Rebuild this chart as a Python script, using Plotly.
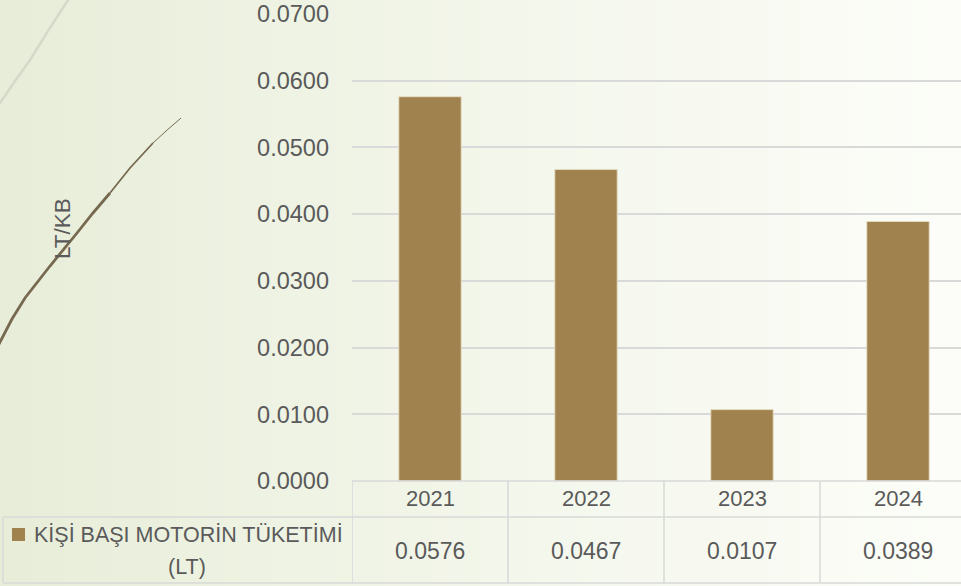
import plotly.graph_objects as go

# ---- data ----
years = ["2021", "2022", "2023", "2024"]
values = [0.0576, 0.0467, 0.0107, 0.0389]
series_name = "KİŞİ BAŞI MOTORİN TÜKETİMİ"
series_unit = "(LT)"
y_title = "LT/KB"
y_ticks = [0.0, 0.01, 0.02, 0.03, 0.04, 0.05, 0.06, 0.07]

W, H = 961, 586
FONT = "Liberation Sans, Arial, sans-serif"
TXT = "#5a5a5a"
GRID = "#d9d9d9"
BAR = "#A0824F"


def px(x):
    return x / W


def py(y):
    return 1 - y / H


PLOT_L, PLOT_T, PLOT_B = 352, 14, 481
CAT_W = 156

shapes = []
# background gradient (horizontal strips)
c0 = (231, 237, 216)
c1 = (252, 253, 248)
n = 60
for i in range(n):
    t = i / (n - 1)
    t2 = t ** 0.85
    c = tuple(round(a + (b - a) * t2) for a, b in zip(c0, c1))
    shapes.append(dict(type="rect", xref="paper", yref="paper",
                       x0=i / n, x1=(i + 1) / n + 0.002, y0=0, y1=1,
                       fillcolor=f"rgb{c}", line=dict(width=0), layer="below"))

# decorative curves
def path_from(pts):
    s = f"M {px(pts[0][0])},{py(pts[0][1])}"
    for (x, y) in pts[1:]:
        s += f" L {px(x)},{py(y)}"
    return s

gray_curve = [(-5, 112), (0, 103), (15, 81), (30, 60), (48, 31), (68, 0), (74, -10)]
shapes.append(dict(type="path", xref="paper", yref="paper", path=path_from(gray_curve),
                   line=dict(color="#d6d9ca", width=2.5), layer="below"))
brown_parts = [
    ([(181, 118), (166, 131), (153, 143)], 1),
    ([(153, 143), (130, 168), (110, 193)], 1.8),
    ([(110, 193), (93, 213), (77, 233), (50, 266), (25, 298), (12, 319), (0, 342), (-8, 358)], 2.8),
]
for pts, w in brown_parts:
    shapes.append(dict(type="path", xref="paper", yref="paper", path=path_from(pts),
                       line=dict(color="#76694f", width=w), layer="below"))

# table lines
def hline(y, x0, x1):
    shapes.append(dict(type="line", xref="paper", yref="paper", x0=px(x0), x1=px(x1),
                       y0=py(y), y1=py(y), line=dict(color=GRID, width=1.5), layer="above"))


def vline_paper(x, y0, y1):
    shapes.append(dict(type="line", xref="paper", yref="paper", x0=px(x), x1=px(x),
                       y0=py(y0), y1=py(y1), line=dict(color=GRID, width=1.5), layer="above"))


hline(481, PLOT_L, W + 5)
hline(517, 3, W + 5)
hline(583, 3, W + 5)
vline_paper(3, 517, 583)
for i in range(len(years)):
    shapes.append(dict(type="line", xref="x", yref="paper", x0=i - 0.5, x1=i - 0.5,
                       y0=py(481), y1=py(583), line=dict(color=GRID, width=1.5), layer="above"))

# legend square
shapes.append(dict(type="rect", xref="paper", yref="paper", x0=px(12), x1=px(25),
                   y0=py(541), y1=py(528), fillcolor=BAR, line=dict(width=0)))

annotations = []
for i, (yr, v) in enumerate(zip(years, values)):
    annotations.append(dict(x=i, y=py(498), xref="x", yref="paper", text=yr,
                            showarrow=False, font=dict(family=FONT, size=22, color=TXT),
                            xanchor="center", yanchor="middle"))
    annotations.append(dict(x=i, y=py(551), xref="x", yref="paper", text=f"{v:.4f}",
                            showarrow=False, font=dict(family=FONT, size=23, color=TXT),
                            xanchor="center", yanchor="middle"))
annotations.append(dict(x=px(188), y=py(535), xref="paper", yref="paper", text=series_name,
                        showarrow=False, font=dict(family=FONT, size=21.5, color=TXT),
                        xanchor="center", yanchor="middle"))
annotations.append(dict(x=px(187), y=py(567), xref="paper", yref="paper", text=series_unit,
                        showarrow=False, font=dict(family=FONT, size=21.5, color=TXT),
                        xanchor="center", yanchor="middle"))
annotations.append(dict(x=px(63), y=py(229), xref="paper", yref="paper", text=y_title,
                        showarrow=False, textangle=-90,
                        font=dict(family=FONT, size=22.5, color=TXT),
                        xanchor="center", yanchor="middle"))

fig = go.Figure(go.Bar(
    x=list(range(len(years))), y=values, width=0.4,
    marker=dict(color=BAR, line=dict(color="rgba(230,222,195,0.9)", width=1)),
    hoverinfo="skip", showlegend=False,
))

fig.update_layout(
    width=W, height=H,
    margin=dict(l=0, r=0, t=0, b=0, autoexpand=False),
    paper_bgcolor="#f1f4e8",
    plot_bgcolor="rgba(0,0,0,0)",
    shapes=shapes,
    annotations=annotations,
    showlegend=False,
    bargap=0.6,
    xaxis=dict(domain=[px(PLOT_L), 1], range=[-0.5, -0.5 + (W - PLOT_L) / CAT_W],
               showticklabels=False, showgrid=False, zeroline=False, showline=False,
               fixedrange=True, automargin=False),
    yaxis=dict(domain=[py(PLOT_B), py(PLOT_T)], range=[0, 0.07],
               tickvals=y_ticks, ticktext=[f"{t:.4f}" for t in y_ticks],
               tickfont=dict(family=FONT, size=23.5, color=TXT),
               ticklabelstandoff=22,
               showgrid=True, gridcolor=GRID, gridwidth=1.5,
               zeroline=False, showline=False, fixedrange=True, automargin=False),
)

fig.write_html("out.html", config={"displayModeBar": False},
               post_script="document.body.style.margin='0';document.body.style.overflow='hidden';")
